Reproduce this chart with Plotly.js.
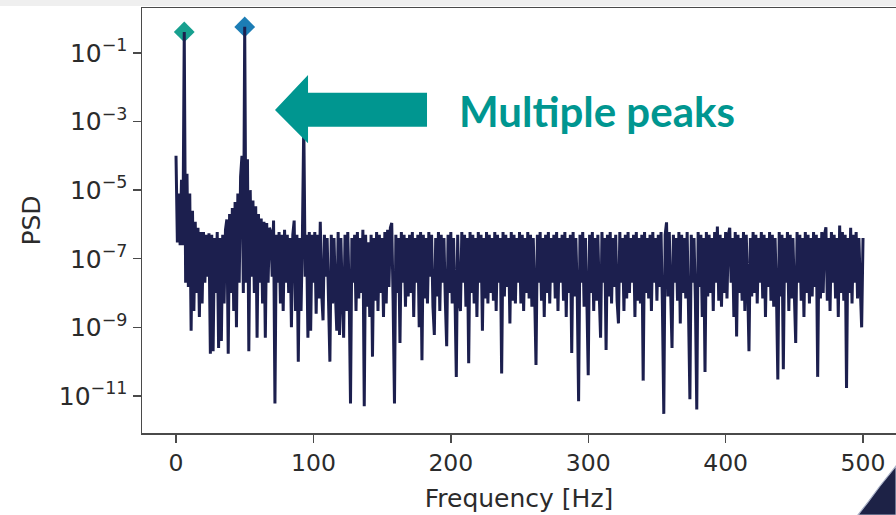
<!DOCTYPE html>
<html>
<head>
<meta charset="utf-8">
<script src="https://cdn.plot.ly/plotly-3.0.1.min.js"></script>
<style>
  html, body { margin: 0; padding: 0; background: #ffffff; }
  #chart { width: 896px; height: 515px; }
</style>
</head>
<body>
<div id="chart"></div>
<script>
// Power spectral density, one value per 1 Hz bin from 0 Hz to 500 Hz
const freqStart = 0;   // Hz of the first bin
const freqStep = 1;    // Hz between bins
const psdValues = [
  // 0-9 Hz
  1e-4, 3e-7, 8e-6, 2.5e-7, 2e-5, 2.5e-7, 0.41, 2e-8, 3e-5, 1.5e-8,
  // 10-19 Hz
  8e-6, 8e-10, 2.5e-6, 3e-9, 1.2e-6, 1e-8, 8e-7, 2e-9, 6e-7, 5e-9,
  // 20-29 Hz
  6e-7, 2e-8, 5e-7, 3e-8, 5.5e-7, 1.7e-10, 5e-7, 2e-10, 4e-7, 1e-8,
  // 30-39 Hz
  6e-7, 2.5e-10, 4e-7, 4e-10, 5e-7, 5e-9, 7e-7, 1.4e-6, 1.7e-10, 2e-6,
  // 40-49 Hz
  1e-8, 3e-6, 3e-9, 4.5e-6, 1e-9, 8e-6, 2e-8, 2.5e-5, 1e-4, 1e-8,
  // 50-59 Hz
  0.575, 2e-8, 8e-5, 2e-10, 1e-5, 3e-8, 5e-6, 1e-8, 3.4e-6, 5e-10,
  // 60-69 Hz
  2e-6, 2e-8, 1.5e-6, 5e-9, 1.2e-6, 5e-10, 1.1e-6, 2e-8, 8e-7, 6e-7,
  // 70-79 Hz
  3e-8, 1.3e-6, 6e-12, 5e-7, 2e-8, 6e-7, 5e-9, 5e-7, 3e-9, 7e-7,
  // 80-89 Hz
  2e-8, 5e-7, 1e-8, 4e-7, 1e-9, 5e-7, 1.3e-6, 3e-9, 5e-7, 1e-10,
  // 90-99 Hz
  4e-7, 3e-9, 5e-7, 1e-3, 3e-8, 5e-7, 5e-10, 6e-7, 8e-10, 5e-7,
  // 100-109 Hz
  2e-8, 6e-7, 2.5e-9, 5e-7, 7e-9, 1.2e-6, 1e-8, 1.6e-9, 5e-7, 3e-8,
  // 110-119 Hz
  4e-7, 6e-9, 1e-10, 5e-7, 5e-9, 4e-7, 1e-8, 8e-10, 6e-7, 6e-10,
  // 120-129 Hz
  4e-7, 8e-9, 5e-10, 5e-7, 3e-9, 6e-7, 1e-8, 6e-12, 4e-7, 2e-8,
  // 130-139 Hz
  5e-7, 3e-9, 6e-7, 7e-9, 4e-7, 1e-8, 7e-7, 5e-12, 5e-7, 4e-9,
  // 140-149 Hz
  3e-7, 2e-9, 5e-7, 1.4e-10, 4e-7, 6e-9, 6e-7, 3e-9, 5e-7, 1e-8,
  // 150-159 Hz
  4e-7, 2e-9, 6e-7, 5e-9, 7e-7, 1.5e-8, 8e-7, 1.1e-6, 6e-9, 6e-12,
  // 160-169 Hz
  5e-7, 1e-8, 4e-7, 3.5e-10, 6e-7, 2e-8, 5e-7, 4e-9, 4e-7, 8e-9,
  // 170-179 Hz
  5e-7, 1e-8, 6e-7, 2e-9, 4e-7, 2e-8, 5e-7, 1e-9, 6e-7, 1.1e-10,
  // 180-189 Hz
  5e-7, 7e-9, 4e-7, 5e-9, 6e-7, 3e-8, 5e-7, 4e-9, 6e-10, 4e-7,
  // 190-199 Hz
  8e-9, 6e-7, 3e-9, 5e-7, 2e-8, 4e-7, 6e-9, 2.8e-10, 5e-7, 1e-8,
  // 200-209 Hz
  6e-7, 5e-9, 4e-7, 1e-8, 3.6e-11, 5e-7, 7e-9, 3e-9, 6e-7, 2e-8,
  // 210-219 Hz
  5e-7, 4e-9, 4e-7, 9e-11, 6e-7, 1e-8, 5e-7, 5e-9, 4e-7, 2e-9,
  // 220-229 Hz
  6e-7, 2e-8, 5e-7, 8e-10, 4e-7, 7e-9, 6e-7, 5e-9, 5e-7, 1e-8,
  // 230-239 Hz
  4e-7, 6e-9, 6e-7, 3e-9, 5e-7, 2e-8, 4e-7, 4.5e-11, 6e-7, 8e-9,
  // 240-249 Hz
  5e-7, 1.5e-8, 4e-7, 1.3e-9, 6e-7, 6e-9, 5e-7, 5e-9, 4e-7, 2e-8,
  // 250-259 Hz
  6e-7, 5e-9, 5e-7, 3e-9, 4e-7, 1e-8, 6e-7, 7e-9, 5e-7, 4e-9,
  // 260-269 Hz
  4e-7, 1e-8, 8e-11, 5e-7, 2e-8, 6e-7, 6e-9, 4e-7, 2e-9, 5e-7,
  // 270-279 Hz
  1e-8, 6e-7, 5e-9, 4e-7, 2e-8, 5e-7, 7e-9, 6e-7, 3e-9, 4e-7,
  // 280-289 Hz
  2e-8, 5e-7, 6e-9, 6e-7, 2e-9, 4e-7, 1e-8, 5e-7, 1.8e-10, 6e-7,
  // 290-299 Hz
  8e-9, 4e-7, 1e-8, 7e-12, 5e-7, 2e-8, 6e-7, 4e-9, 4e-7, 7e-9,
  // 300-309 Hz
  4e-11, 5e-7, 1e-8, 6e-7, 3e-9, 4e-7, 6e-9, 5e-7, 1e-8, 5e-10,
  // 310-319 Hz
  6e-7, 2e-8, 4e-7, 2.2e-10, 5e-7, 8e-9, 6e-7, 5e-9, 4e-7, 1.5e-8,
  // 320-329 Hz
  5e-7, 6e-9, 1.3e-9, 6e-7, 2e-8, 4e-7, 3e-9, 5e-7, 7e-9, 6e-7,
  // 330-339 Hz
  1e-8, 4e-7, 2e-8, 5e-7, 2e-9, 6e-7, 6e-9, 4e-7, 5e-9, 5e-7,
  // 340-349 Hz
  2.8e-11, 6e-7, 1e-8, 4e-7, 7e-9, 5e-7, 3e-9, 6e-7, 2e-8, 4e-7,
  // 350-359 Hz
  6e-9, 5e-7, 1.5e-8, 6e-7, 4e-9, 3e-12, 5e-7, 1.15e-6, 8e-9, 6e-7,
  // 360-369 Hz
  1e-8, 2.5e-10, 5e-7, 2e-8, 4e-7, 6e-9, 6e-7, 1.3e-9, 5e-7, 1e-8,
  // 370-379 Hz
  4e-7, 7e-9, 6e-7, 3e-9, 8e-12, 5e-7, 2e-8, 4e-7, 6e-9, 4e-12,
  // 380-389 Hz
  6e-7, 1.5e-8, 5e-7, 2e-9, 4e-7, 5e-11, 6e-7, 8e-9, 5e-7, 1e-8,
  // 390-399 Hz
  4e-7, 3e-9, 6e-7, 2e-8, 8.7e-7, 6e-9, 5e-7, 4e-9, 4e-7, 1e-8,
  // 400-409 Hz
  6e-7, 7e-9, 5e-7, 8e-7, 2e-8, 4e-7, 2e-9, 6e-7, 5.4e-10, 5e-7,
  // 410-419 Hz
  1e-8, 4e-7, 6e-9, 6e-7, 3e-9, 5e-7, 2e-8, 2e-10, 4e-7, 8e-9,
  // 420-429 Hz
  6e-7, 1e-8, 5e-7, 5e-9, 4e-7, 2e-8, 6e-7, 7e-9, 5e-7, 2e-9,
  // 430-439 Hz
  4e-7, 1.5e-8, 6e-7, 6e-9, 5e-7, 4e-9, 4e-7, 1e-8, 3e-11, 6e-7,
  // 440-449 Hz
  8e-9, 5e-7, 6e-11, 4e-7, 2e-8, 6e-7, 3e-9, 5e-7, 7e-9, 4e-7,
  // 450-459 Hz
  1e-8, 3.5e-10, 6e-7, 2e-8, 5e-7, 6e-9, 4e-7, 2e-9, 6e-7, 1e-8,
  // 460-469 Hz
  5e-7, 5e-9, 4e-7, 8e-9, 6e-7, 1.5e-8, 5e-7, 3.6e-11, 4e-7, 7e-9,
  // 470-479 Hz
  6e-7, 1e-8, 5e-7, 8.3e-7, 6e-9, 4e-7, 3e-9, 6e-7, 2e-8, 5e-7,
  // 480-489 Hz
  7e-9, 4e-7, 2e-9, 9.3e-7, 1e-8, 6e-7, 6e-9, 5e-7, 1.7e-11, 4e-7,
  // 490-500 Hz
  1e-8, 8e-7, 5e-9, 5e-7, 2e-8, 6e-7, 7e-9, 4e-7, 1.5e-8, 1e-9, 4e-7
];

// Detected peaks (frequency in Hz) and their marker colours
const peakFreqs = [6, 50];
const peakColors = ['#17a08f', '#1c7db5'];

// Axis ticks
const xTickVals = [0, 100, 200, 300, 400, 500];
const yTickExps = [-11, -9, -7, -5, -3, -1];

// Annotation text
const calloutText = 'Multiple peaks';

// ---- figure geometry (pixels) ----
const W = 896, H = 515;
const M = { l: 142, r: 0, t: 8, b: 82 };
const plotW = W - M.l - M.r, plotH = H - M.t - M.b;
const px = x => (x - M.l) / plotW;          // pixel x -> paper x
const py = y => (H - M.b - y) / plotH;      // pixel y -> paper y

const peakX = peakFreqs;
const peakY = peakFreqs.map(f => psdValues[Math.round((f - freqStart) / freqStep)]);

const navy = '#1c1f4e';
const teal = '#009690';
const axisColor = '#4a4a4a';
const textColor = '#2b2b2b';
const font = 'DejaVu Sans, sans-serif';

const traces = [
  {
    type: 'scatter', mode: 'markers',
    x: peakX, y: peakY,
    marker: { symbol: 'diamond', size: 16, color: peakColors, line: { width: 0 } },
    hoverinfo: 'skip', showlegend: false
  },
  {
    type: 'scatter', mode: 'lines',
    x0: freqStart, dx: freqStep, y: psdValues,
    line: { color: navy, width: 3, simplify: false },
    hoverinfo: 'skip', showlegend: false
  }
];

// Arrow pointing at the peaks
const arrowPts = [
  [275, 110], [308, 75], [308, 92.7], [427, 92.7],
  [427, 126.7], [308, 126.7], [308, 143.3]
];
const arrowPath = 'M ' + arrowPts.map(p => px(p[0]).toFixed(4) + ',' + py(p[1]).toFixed(4)).join(' L ') + ' Z';

// Dark corner of a neighbouring picture at the bottom right
const cornerPts = [[858, 515], [868, 502], [880, 486], [896, 466], [896, 515]];
const cornerPath = 'M ' + cornerPts.map(p => px(p[0]).toFixed(4) + ',' + py(p[1]).toFixed(4)).join(' L ') + ' Z';

const layout = {
  width: W, height: H,
  margin: M,
  paper_bgcolor: '#ffffff',
  plot_bgcolor: '#ffffff',
  font: { family: font, color: textColor, size: 23 },
  xaxis: {
    range: [-24.75, 524],
    tickvals: xTickVals,
    ticks: 'outside', ticklen: 8, tickwidth: 1.4, tickcolor: axisColor,
    showline: true, mirror: true, linecolor: axisColor, linewidth: 1.5,
    showgrid: false, zeroline: false,
    tickfont: { family: font, size: 23.5, color: textColor },
    title: { text: 'Frequency [Hz]', font: { family: font, size: 25, color: textColor }, standoff: 14 },
    automargin: false
  },
  yaxis: {
    type: 'log',
    range: [-12.08, 0.31],
    tickvals: yTickExps.map(e => Math.pow(10, e)),
    ticktext: yTickExps.map(e => '10<sup>\u2212' + Math.abs(e) + '</sup>'),
    ticks: 'outside', ticklen: 8, tickwidth: 1.4, tickcolor: axisColor,
    showline: true, mirror: true, linecolor: axisColor, linewidth: 1.5,
    showgrid: false, zeroline: false,
    tickfont: { family: font, size: 25, color: textColor },
    title: { text: 'PSD', font: { family: font, size: 25, color: textColor }, standoff: 11 },
    automargin: false
  },
  shapes: [
    { type: 'rect', xref: 'paper', yref: 'paper', x0: px(0), x1: px(W), y0: py(0), y1: py(6),
      fillcolor: '#efefef', line: { width: 0 }, layer: 'below' },
    { type: 'path', xref: 'paper', yref: 'paper', path: arrowPath,
      fillcolor: teal, line: { width: 0 }, layer: 'above' },
    { type: 'path', xref: 'paper', yref: 'paper', path: cornerPath,
      fillcolor: '#1d2246', line: { color: '#aab2c8', width: 1.2 }, layer: 'above' }
  ],
  annotations: [
    { xref: 'paper', yref: 'paper', x: px(597), y: py(111),
      xanchor: 'center', yanchor: 'middle', showarrow: false,
      text: '<b>' + calloutText + '</b>',
      font: { family: 'Lato, sans-serif', size: 42, color: teal } }
  ]
};

Plotly.newPlot('chart', traces, layout, { staticPlot: true, displayModeBar: false });
</script>
</body>
</html>
